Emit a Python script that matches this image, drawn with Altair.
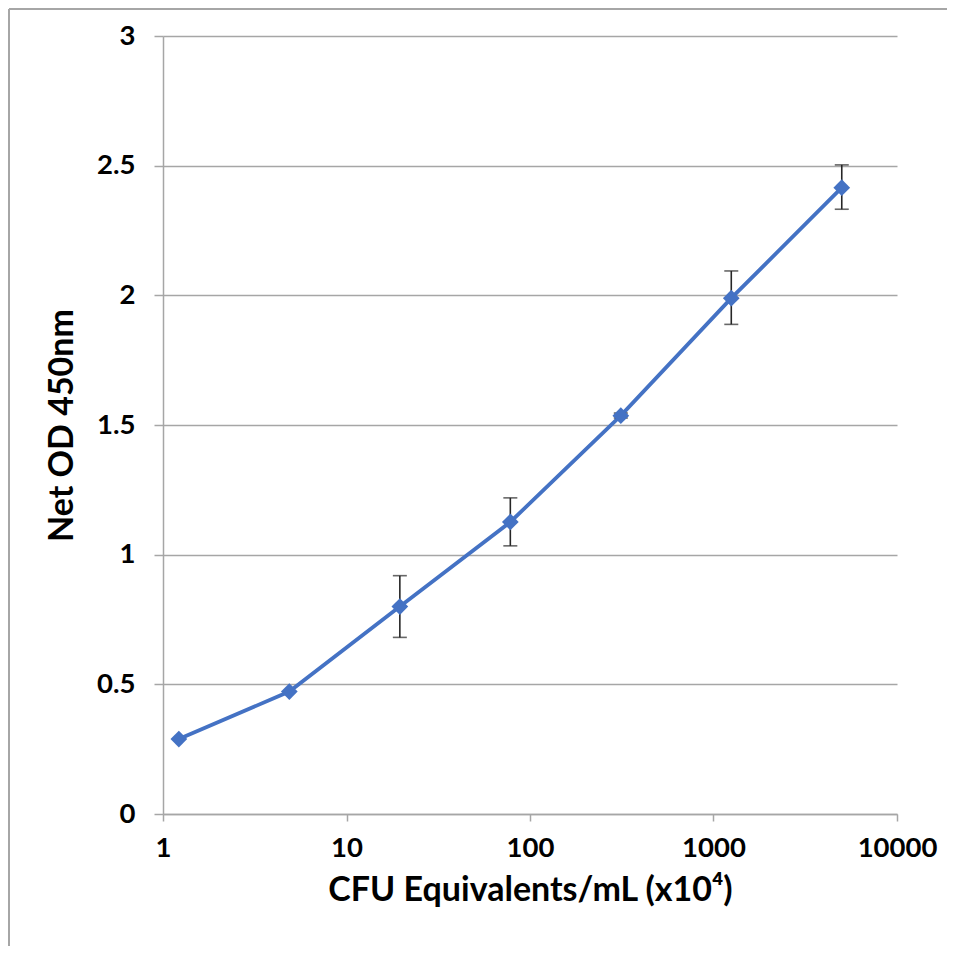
import altair as alt
import pandas as pd

# Data
cfu = [1.22, 4.88, 19.53, 78.13, 312.5, 1250, 5000]
od = [0.289, 0.472, 0.800, 1.126, 1.536, 1.989, 2.415]
err_low = [0.289, 0.472, 0.681, 1.034, 1.527, 1.888, 2.332]
err_high = [0.289, 0.472, 0.919, 1.219, 1.546, 2.094, 2.503]
x_ticks = [1, 10, 100, 1000, 10000]
y_ticks = [0, 0.5, 1, 1.5, 2, 2.5, 3]

df = pd.DataFrame({"cfu": cfu, "od": od, "lo": err_low, "hi": err_high})
df_err = df[df["hi"] > df["lo"]]

FONT = "Lato"
BLUE = "#4472C4"
GRAY = "#A6A6A6"
ERR = "#262626"

x_enc = alt.X(
    "cfu:Q",
    scale=alt.Scale(type="log", domain=[1, 10000], nice=False),
    axis=alt.Axis(
        values=x_ticks, format="d", title="CFU Equivalents/mL (x10⁴)",
        grid=False, domainColor=GRAY, domainWidth=1.5, tickColor=GRAY,
        tickSize=7, tickWidth=1.5, labelPadding=13, titlePadding=12,
        labelFontSize=27.5, titleFontSize=34, labelFlush=False,
    ),
)
y_enc = alt.Y(
    "od:Q",
    scale=alt.Scale(domain=[0, 3], nice=False),
    axis=alt.Axis(
        values=y_ticks, format="~g", title="Net OD 450nm",
        grid=True, gridColor=GRAY, gridWidth=1.5, domainColor=GRAY,
        domainWidth=1.5, tickColor=GRAY, tickSize=9, tickWidth=1.5,
        labelPadding=19, titlePadding=17, labelFontSize=27.5,
        titleFontSize=34, labelFlush=False,
    ),
)

line = alt.Chart(df).mark_line(color=BLUE, strokeWidth=3.8).encode(x=x_enc, y=y_enc)

err_rule = alt.Chart(df_err).mark_rule(color=ERR, strokeWidth=1.6).encode(
    x="cfu:Q", y="lo:Q", y2="hi:Q"
)
cap_lo = alt.Chart(df_err).mark_tick(
    color=ERR, thickness=1.6, size=14, orient="horizontal"
).encode(x="cfu:Q", y="lo:Q")
cap_hi = alt.Chart(df_err).mark_tick(
    color=ERR, thickness=1.6, size=14, orient="horizontal"
).encode(x="cfu:Q", y="hi:Q")

points = alt.Chart(df).mark_point(
    shape="diamond", filled=True, color=BLUE, size=280, opacity=1
).encode(x="cfu:Q", y="od:Q")

border_top = alt.Chart(df).mark_rule(color=GRAY, strokeWidth=2).encode(
    x=alt.value(-154), x2=alt.value(1000), y=alt.value(-27)
)
border_left = alt.Chart(df).mark_rule(color=GRAY, strokeWidth=2).encode(
    x=alt.value(-154), y=alt.value(-27), y2=alt.value(1000)
)

chart = (
    alt.layer(line, err_rule, cap_lo, cap_hi, points, border_top, border_left)
    .properties(
        width=734, height=778,
        autosize=alt.AutoSizeParams(type="none"),
        padding={"left": 155, "top": 28, "right": 50, "bottom": 132},
    )
    .configure_view(stroke=None)
    .configure_axis(
        labelFont=FONT, titleFont=FONT, labelFontWeight="bold",
        titleFontWeight="bold", labelColor="#000000", titleColor="#000000",
    )
)

chart.save("out.html", embed_options={"renderer": "svg", "actions": False})
